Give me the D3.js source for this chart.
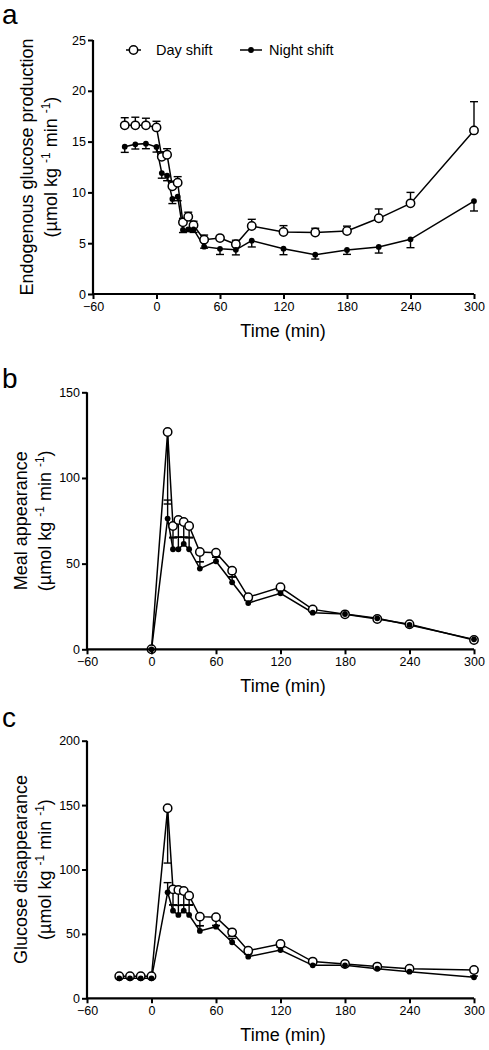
<!DOCTYPE html>
<html>
<head>
<meta charset="utf-8">
<script src="https://cdn.jsdelivr.net/npm/d3@7"></script>
<style>
  html, body { margin: 0; padding: 0; background: #fff; }
  svg { display: block; font-family: "Liberation Sans", Arial, Helvetica, sans-serif; }
</style>
</head>
<body>
<svg id="chart" width="489" height="1050"></svg>
<script>
// ---------- data ----------
const xTicks = [-60, 0, 60, 120, 180, 240, 300];
const legendLabels = ["Day shift", "Night shift"];

// Panel a: endogenous glucose production
const timeA = [-30, -20, -10, 0, 5, 10, 15, 20, 25, 30, 35, 45, 60, 75, 90, 120, 150, 180, 210, 240, 300];
const dayA   = [16.6, 16.6, 16.6, 16.4, 13.5, 13.7, 10.6, 10.95, 7.05, 7.6, 6.76, 5.35, 5.5, 4.89, 6.69, 6.1, 6.05, 6.2, 7.45, 8.92, 16.1];
const dayASe = [0.75, 0.8, 0.7, 0.6, 0.5, 0.6, 0.5, 0.6, 0.4, 0.45, 0.4, 0.45, 0.2, 0.4, 0.66, 0.63, 0.42, 0.48, 0.92, 1.08, 2.83];
const nightA   = [14.5, 14.73, 14.8, 14.47, 11.9, 11.65, 9.35, 9.58, 6.3, 6.36, 6.36, 4.66, 4.45, 4.35, 5.25, 4.46, 3.87, 4.33, 4.63, 5.38, 9.15];
const nightASe = [0.56, 0.46, 0.5, 0.5, 0.5, 0.5, 0.45, 0.4, 0.25, 0.2, 0.3, 0.15, 0.56, 0.5, 0.62, 0.59, 0.43, 0.43, 0.6, 0.82, 0.98];
const yTicksA = [0, 5, 10, 15, 20, 25];

// Panel b: meal appearance
const timeB = [0, 15, 20, 25, 30, 35, 45, 60, 75, 90, 120, 150, 180, 210, 240, 300];
const dayB   = [0, 126.8, 72, 75.5, 74.3, 72, 56.8, 56.4, 45.9, 30.4, 36.2, 23.3, 20.4, 17.7, 14.6, 5.4];
const dayBSe = [0, 42, 7, 10, 9, 7, 5.7, 2.7, 3.5, 1.5, 1.5, 1, 0.5, 0.5, 0.5, 0.5];
const nightB   = [0, 76.3, 58.4, 58.4, 61.5, 58.4, 47.1, 51.4, 39.1, 27, 32.7, 21.4, 20.6, 18.1, 14.2, 5.8];
const nightBSe = [0, 10.8, 7, 7, 4, 7, 4, 2.3, 3, 1.5, 1.5, 1, 0.5, 0.5, 0.5, 0.5];
const yTicksB = [0, 50, 100, 150];

// Panel c: glucose disappearance
const timeC = [-30, -20, -10, 0, 15, 20, 25, 30, 35, 45, 60, 75, 90, 120, 150, 180, 210, 240, 300];
const dayC   = [17.1, 17.1, 17.1, 17.1, 147.5, 84.6, 84.1, 83.3, 79.7, 63.4, 62.9, 51.2, 37, 42.2, 28.5, 26.6, 24.6, 23, 22];
const dayCSe = [0.5, 0.5, 0.5, 0.5, 42.5, 12, 12, 11, 7, 7, 6.5, 3, 2, 2, 1, 1, 1, 1, 1];
const nightC   = [15.5, 15.5, 15.5, 15.5, 82.3, 68, 64.7, 68, 64.7, 52.3, 55.6, 43.5, 32.3, 37.5, 25.6, 25.6, 23, 20.7, 16.3];
const nightCSe = [0.5, 0.5, 0.5, 0.5, 7.5, 4.5, 7.5, 4.5, 7.5, 4, 1, 3, 2, 2, 1, 1, 1, 1, 1];
const yTicksC = [0, 50, 100, 150, 200];

// ---------- drawing ----------
const svg = d3.select("#chart");
const FONT = "'Liberation Sans', Arial, Helvetica, sans-serif";

function zip(t, v, s) { return t.map((d, i) => ({ t: d, v: v[i], s: s[i] })); }

function panel(cfg) {
  const x = d3.scaleLinear().domain([-60, 300]).range([cfg.left, 474]);
  const y = d3.scaleLinear().domain([0, cfg.ymax]).range([cfg.bottom, cfg.top]);
  const g = svg.append("g");

  // panel letter
  g.append("text").attr("x", 2).attr("y", cfg.letterY)
    .attr("font-size", 28).attr("font-family", FONT).text(cfg.letter);

  const day = zip(cfg.time, cfg.day, cfg.daySe);
  const night = zip(cfg.time, cfg.night, cfg.nightSe);
  const line = d3.line().x(d => x(d.t)).y(d => y(d.v));

  // error bars
  function errBars(data, dir) {
    const eg = g.append("g").attr("stroke", "#000").attr("stroke-width", 1.4).attr("fill", "none");
    data.forEach(d => {
      if (!d.s) return;
      const end = d.v + dir * d.s;
      eg.append("line").attr("x1", x(d.t)).attr("x2", x(d.t)).attr("y1", y(d.v)).attr("y2", y(end));
      eg.append("line").attr("x1", x(d.t) - 4).attr("x2", x(d.t) + 4).attr("y1", y(end)).attr("y2", y(end));
    });
  }
  errBars(day, cfg.dayDir);
  errBars(night, -cfg.dayDir);

  g.append("path").datum(day).attr("d", line).attr("fill", "none").attr("stroke", "#000").attr("stroke-width", 1.5);
  g.append("path").datum(night).attr("d", line).attr("fill", "none").attr("stroke", "#000").attr("stroke-width", 1.5);

  g.selectAll("circle.day").data(day).join("circle").attr("class", "day")
    .attr("cx", d => x(d.t)).attr("cy", d => y(d.v)).attr("r", 4.2)
    .attr("fill", "#fff").attr("stroke", "#000").attr("stroke-width", 1.5);
  g.selectAll("circle.night").data(night).join("circle").attr("class", "night")
    .attr("cx", d => x(d.t)).attr("cy", d => y(d.v)).attr("r", 2.9)
    .attr("fill", "#000");

  // axes
  const xAxis = d3.axisBottom(x).tickValues(xTicks).tickSize(5).tickPadding(3).tickFormat(d3.format("d"));
  const yAxis = d3.axisLeft(y).tickValues(cfg.yTicks).tickSize(5).tickPadding(2).tickFormat(d3.format("d"));
  const xa = g.append("g").attr("transform", `translate(0,${cfg.bottom})`).call(xAxis);
  const ya = g.append("g").attr("transform", `translate(${cfg.left},0)`).call(yAxis);
  [xa, ya].forEach(a => {
    a.select(".domain").attr("stroke-width", 2.2).attr("stroke", "#000");
    a.selectAll(".tick line").attr("stroke-width", 2).attr("stroke", "#000");
    a.selectAll("text").attr("font-size", 12.5).attr("font-family", FONT).attr("fill", "#000");
  });
  xa.select(".domain").attr("d", `M${cfg.left},0H474`);
  ya.select(".domain").attr("d", `M0,${cfg.bottom}V${cfg.top}`);

  // x label
  g.append("text").attr("x", 283).attr("y", cfg.bottom + 43)
    .attr("text-anchor", "middle").attr("font-size", 18).attr("font-family", FONT).text("Time (min)");

  // y label
  const cy = (cfg.top + cfg.bottom) / 2;
  g.append("text").attr("transform", `translate(${cfg.labX1},${cy}) rotate(-90)`)
    .attr("text-anchor", "middle").attr("font-size", 18).attr("font-family", FONT).text(cfg.ylabel);
  const t2 = g.append("text").attr("transform", `translate(${cfg.labX2},${cy}) rotate(-90)`)
    .attr("text-anchor", "middle").attr("font-size", 18).attr("font-family", FONT);
  t2.append("tspan").text("(\u00b5mol kg ");
  t2.append("tspan").attr("font-size", 12).attr("dy", -7).text("-1");
  t2.append("tspan").attr("dy", 7).text(" min ");
  t2.append("tspan").attr("font-size", 12).attr("dy", -7).text("-1");
  t2.append("tspan").attr("dy", 7).text(")");

  return { x, y, g };
}

panel({
  letter: "a", letterY: 24, left: 93, top: 40, bottom: 294, ymax: 25, yTicks: yTicksA,
  time: timeA, day: dayA, daySe: dayASe, night: nightA, nightSe: nightASe, dayDir: 1,
  ylabel: "Endogenous glucose production", labX1: 33, labX2: 57
});
panel({
  letter: "b", letterY: 388, left: 87, top: 392.3, bottom: 649.3, ymax: 150, yTicks: yTicksB,
  time: timeB, day: dayB, daySe: dayBSe, night: nightB, nightSe: nightBSe, dayDir: -1,
  ylabel: "Meal appearance", labX1: 27, labX2: 51
});
panel({
  letter: "c", letterY: 727, left: 87, top: 740.7, bottom: 998.3, ymax: 200, yTicks: yTicksC,
  time: timeC, day: dayC, daySe: dayCSe, night: nightC, nightSe: nightCSe, dayDir: -1,
  ylabel: "Glucose disappearance", labX1: 27, labX2: 51
});

// legend (panel a)
const lg = svg.append("g").attr("font-family", FONT).attr("font-size", 14.5);
lg.append("line").attr("x1", 126).attr("x2", 141).attr("y1", 50).attr("y2", 50).attr("stroke", "#000").attr("stroke-width", 1.5);
lg.append("circle").attr("cx", 133.5).attr("cy", 50).attr("r", 4.2).attr("fill", "#fff").attr("stroke", "#000").attr("stroke-width", 1.5);
lg.append("text").attr("x", 156).attr("y", 55).text(legendLabels[0]);
lg.append("line").attr("x1", 240).attr("x2", 262).attr("y1", 50).attr("y2", 50).attr("stroke", "#000").attr("stroke-width", 1.5);
lg.append("circle").attr("cx", 251).attr("cy", 50).attr("r", 2.9).attr("fill", "#000");
lg.append("text").attr("x", 269).attr("y", 55).text(legendLabels[1]);
</script>
</body>
</html>
